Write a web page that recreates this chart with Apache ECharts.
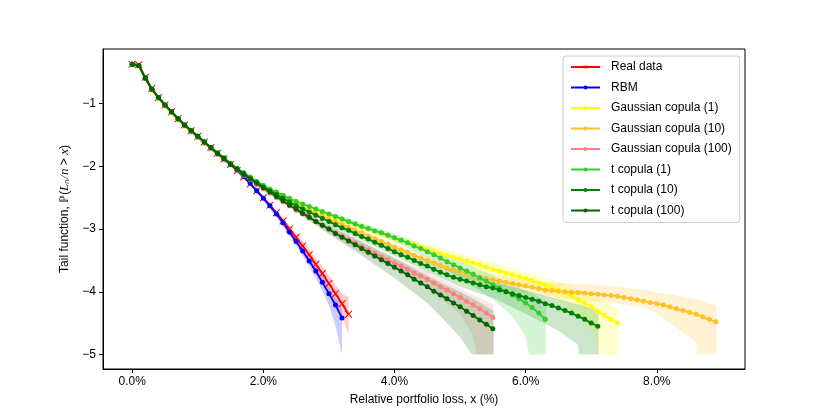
<!DOCTYPE html>
<html>
<head>
<meta charset="utf-8">
<script src="https://cdn.jsdelivr.net/npm/echarts@6/dist/echarts.min.js"></script>
<style>
html, body { margin: 0; padding: 0; background: #fff; }
#chart { width: 830px; height: 415px; }
</style>
</head>
<body>
<div id="chart"></div>
<script>
// relative loss grid, in percent
var lossPct = [0.0, 0.1, 0.2, 0.3, 0.4, 0.5, 0.6, 0.7, 0.8, 0.9,
    1.0, 1.1, 1.2, 1.3, 1.4, 1.5, 1.6, 1.7, 1.8, 1.9,
    2.0, 2.1, 2.2, 2.3, 2.4, 2.5, 2.6, 2.7, 2.8, 2.9,
    3.0, 3.1, 3.2, 3.3, 3.4, 3.5, 3.6, 3.7, 3.8, 3.9,
    4.0, 4.1, 4.2, 4.3, 4.4, 4.5, 4.6, 4.7, 4.8, 4.9,
    5.0, 5.1, 5.2, 5.3, 5.4, 5.5, 5.6, 5.7, 5.8, 5.9,
    6.0, 6.1, 6.2, 6.3, 6.4, 6.5, 6.6, 6.7, 6.8, 6.9,
    7.0, 7.1, 7.2, 7.3, 7.4, 7.5, 7.6, 7.7, 7.8, 7.9,
    8.0, 8.1, 8.2, 8.3, 8.4, 8.5, 8.6, 8.7, 8.8, 8.9];

// log10 tail probabilities, one value per grid step
var realData = [-0.37, -0.38, -0.58, -0.76, -0.90, -1.02, -1.13, -1.24, -1.34, -1.43,
    -1.52, -1.61, -1.70, -1.79, -1.88, -1.97, -2.07, -2.17, -2.28, -2.39,
    -2.50, -2.62, -2.74, -2.87, -3.00, -3.13, -3.27, -3.41, -3.56, -3.71,
    -3.87, -4.03, -4.19, -4.36];
var rbm = [-0.37, -0.39, -0.59, -0.77, -0.91, -1.03, -1.14, -1.25, -1.35, -1.44,
    -1.53, -1.62, -1.71, -1.80, -1.88, -1.97, -2.06, -2.16, -2.27, -2.39,
    -2.51, -2.63, -2.76, -2.90, -3.05, -3.20, -3.35, -3.51, -3.67, -3.85,
    -4.03, -4.21, -4.42];
var gauss1 = [-0.37, -0.39, -0.60, -0.78, -0.92, -1.04, -1.15, -1.26, -1.36, -1.45,
    -1.54, -1.63, -1.72, -1.80, -1.88, -1.96, -2.04, -2.11, -2.18, -2.25,
    -2.31, -2.37, -2.42, -2.47, -2.52, -2.57, -2.61, -2.66, -2.70, -2.74,
    -2.78, -2.82, -2.86, -2.89, -2.93, -2.97, -3.00, -3.04, -3.08, -3.11,
    -3.15, -3.18, -3.22, -3.25, -3.29, -3.32, -3.35, -3.39, -3.42, -3.45,
    -3.48, -3.51, -3.54, -3.57, -3.61, -3.64, -3.67, -3.70, -3.73, -3.76,
    -3.79, -3.82, -3.86, -3.89, -3.93, -3.97, -4.02, -4.07, -4.13, -4.18,
    -4.24, -4.31, -4.38, -4.44, -4.50];
var gauss10 = [-0.37, -0.39, -0.59, -0.77, -0.91, -1.03, -1.14, -1.25, -1.35, -1.44,
    -1.53, -1.62, -1.71, -1.79, -1.87, -1.96, -2.04, -2.11, -2.18, -2.25,
    -2.32, -2.38, -2.44, -2.49, -2.55, -2.60, -2.65, -2.70, -2.75, -2.79,
    -2.84, -2.88, -2.93, -2.97, -3.02, -3.06, -3.11, -3.15, -3.20, -3.24,
    -3.29, -3.33, -3.37, -3.42, -3.46, -3.50, -3.54, -3.58, -3.62, -3.65,
    -3.68, -3.71, -3.74, -3.77, -3.79, -3.81, -3.83, -3.85, -3.87, -3.89,
    -3.91, -3.93, -3.95, -3.97, -3.98, -3.99, -4.00, -4.01, -4.01, -4.02,
    -4.03, -4.04, -4.05, -4.06, -4.07, -4.09, -4.11, -4.13, -4.15, -4.17,
    -4.19, -4.21, -4.24, -4.27, -4.30, -4.33, -4.36, -4.40, -4.44, -4.48];
var gauss100 = [-0.37, -0.39, -0.59, -0.77, -0.91, -1.03, -1.14, -1.25, -1.35, -1.45,
    -1.54, -1.63, -1.72, -1.81, -1.90, -1.98, -2.06, -2.14, -2.21, -2.29,
    -2.36, -2.43, -2.50, -2.57, -2.63, -2.70, -2.76, -2.82, -2.88, -2.94,
    -3.00, -3.06, -3.11, -3.17, -3.22, -3.28, -3.33, -3.38, -3.44, -3.49,
    -3.54, -3.59, -3.64, -3.70, -3.75, -3.80, -3.86, -3.92, -3.97, -4.03,
    -4.09, -4.15, -4.21, -4.27, -4.34, -4.41];
var tCop1 = [-0.37, -0.39, -0.59, -0.77, -0.90, -1.02, -1.13, -1.24, -1.34, -1.43,
    -1.52, -1.61, -1.70, -1.78, -1.86, -1.95, -2.03, -2.10, -2.17, -2.24,
    -2.30, -2.36, -2.41, -2.46, -2.51, -2.56, -2.60, -2.64, -2.68, -2.72,
    -2.76, -2.80, -2.84, -2.88, -2.92, -2.96, -2.99, -3.03, -3.06, -3.10,
    -3.14, -3.18, -3.22, -3.27, -3.31, -3.36, -3.41, -3.46, -3.52, -3.57,
    -3.62, -3.67, -3.72, -3.78, -3.83, -3.89, -3.94, -3.99, -4.05, -4.11,
    -4.18, -4.25, -4.34, -4.44];
var tCop10 = [-0.37, -0.39, -0.59, -0.77, -0.90, -1.02, -1.13, -1.24, -1.34, -1.43,
    -1.52, -1.61, -1.70, -1.79, -1.87, -1.96, -2.04, -2.11, -2.19, -2.26,
    -2.33, -2.39, -2.45, -2.51, -2.57, -2.63, -2.68, -2.73, -2.78, -2.83,
    -2.88, -2.93, -2.98, -3.02, -3.07, -3.12, -3.16, -3.21, -3.26, -3.31,
    -3.36, -3.41, -3.45, -3.50, -3.55, -3.59, -3.64, -3.69, -3.73, -3.77,
    -3.80, -3.83, -3.86, -3.89, -3.92, -3.94, -3.97, -4.00, -4.03, -4.06,
    -4.09, -4.12, -4.15, -4.19, -4.22, -4.26, -4.30, -4.34, -4.39, -4.44,
    -4.50, -4.55];
var tCop100 = [-0.37, -0.39, -0.59, -0.77, -0.90, -1.02, -1.13, -1.24, -1.34, -1.43,
    -1.52, -1.61, -1.70, -1.79, -1.88, -1.97, -2.05, -2.13, -2.20, -2.27,
    -2.34, -2.41, -2.48, -2.55, -2.62, -2.68, -2.75, -2.81, -2.88, -2.94,
    -3.00, -3.07, -3.13, -3.19, -3.25, -3.31, -3.37, -3.43, -3.49, -3.55,
    -3.61, -3.67, -3.73, -3.80, -3.86, -3.92, -3.99, -4.05, -4.11, -4.18,
    -4.24, -4.31, -4.38, -4.45, -4.52, -4.59];

// confidence bands: [loss %, lower, upper]
var realBand = [[1.8, -2.30, -2.26], [2.0, -2.53, -2.47], [2.2, -2.78, -2.70], [2.4, -3.06, -2.94],
    [2.6, -3.35, -3.19], [2.8, -3.66, -3.46], [3.0, -4.00, -3.74], [3.1, -4.18, -3.89],
    [3.2, -4.40, -4.03], [3.3, -4.68, -4.09]];
var rbmBand = [[2.0, -2.54, -2.48], [2.4, -3.10, -3.00], [2.6, -3.42, -3.29], [2.8, -3.78, -3.58],
    [2.9, -3.98, -3.75], [3.0, -4.22, -3.93], [3.1, -4.55, -4.10], [3.2, -5.00, -4.28]];
var gauss1Band = [[2.0, -2.33, -2.29], [3.0, -2.82, -2.73], [4.0, -3.20, -3.08], [5.0, -3.56, -3.39],
    [5.5, -3.74, -3.53], [6.0, -3.92, -3.68], [6.5, -4.15, -3.84], [6.8, -4.38, -3.96],
    [7.0, -4.62, -4.05], [7.1, -4.80, -4.12], [7.11, -5.00, -4.12], [7.41, -5.00, -4.28]];
var gauss10Band = [[3.0, -2.88, -2.80], [4.0, -3.34, -3.24], [5.0, -3.75, -3.61], [5.5, -3.90, -3.72],
    [6.0, -4.02, -3.81], [6.5, -4.10, -3.86], [7.0, -4.15, -3.88], [7.5, -4.20, -3.93],
    [7.8, -4.25, -3.97], [8.0, -4.35, -4.01], [8.2, -4.50, -4.04], [8.4, -4.65, -4.08],
    [8.6, -4.80, -4.12], [8.61, -5.00, -4.12], [8.91, -5.00, -4.22]];
var gauss100Band = [[2.0, -2.39, -2.33], [3.0, -3.07, -2.94], [3.5, -3.38, -3.21], [4.0, -3.64, -3.46],
    [4.5, -3.95, -3.68], [5.0, -4.35, -3.95], [5.2, -4.70, -4.05], [5.25, -5.00, -4.08],
    [5.51, -5.00, -4.20]];
var tCop1Band = [[3.0, -2.80, -2.72], [4.0, -3.20, -3.08], [4.5, -3.46, -3.28], [5.0, -3.78, -3.50],
    [5.5, -4.12, -3.74], [5.8, -4.40, -3.88], [6.0, -4.70, -3.98], [6.05, -5.00, -4.00],
    [6.31, -5.00, -4.15]];
var tCop10Band = [[3.0, -2.93, -2.84], [4.0, -3.43, -3.30], [4.5, -3.68, -3.50], [5.0, -3.92, -3.70],
    [5.5, -4.10, -3.84], [6.0, -4.35, -3.98], [6.5, -4.62, -4.12], [6.8, -4.85, -4.20],
    [6.81, -5.00, -4.20], [7.11, -5.00, -4.30]];
var tCop100Band = [[2.5, -2.72, -2.64], [3.0, -3.08, -2.93], [3.5, -3.42, -3.20], [4.0, -3.78, -3.46],
    [4.5, -4.18, -3.74], [4.8, -4.50, -3.90], [5.0, -4.72, -4.00], [5.18, -5.00, -4.10],
    [5.51, -5.00, -4.30]];

var xTicks = [0, 2, 4, 6, 8];
var yTicks = [-5, -4, -3, -2, -1];

var FONT = 'Liberation Sans';
var CROSS = 'path://M0,1L1,0L5,4L9,0L10,1L6,5L10,9L9,10L5,6L1,10L0,9L4,5Z';

function curve(name, color, ys, symbol, size, z) {
    return {
        name: name,
        type: 'line',
        z: z,
        data: ys.map(function (y, i) { return [lossPct[i], y]; }),
        symbol: symbol,
        symbolSize: size,
        showAllSymbol: true,
        lineStyle: { color: color, width: 1.8 },
        itemStyle: { color: color },
        emphasis: { disabled: true }
    };
}

function band(rows, color, z) {
    return {
        type: 'custom',
        z: z,
        silent: true,
        data: rows,
        encode: { x: 0, y: [1, 2] },
        renderItem: function (params, api) {
            if (params.dataIndex !== 0) return null;
            var upper = rows.map(function (r) { return api.coord([r[0], r[2]]); });
            var lower = rows.map(function (r) { return api.coord([r[0], r[1]]); }).reverse();
            return {
                type: 'polygon',
                shape: { points: upper.concat(lower) },
                style: { fill: color, opacity: 0.2 }
            };
        }
    };
}

var names = ['Real data', 'RBM', 'Gaussian copula (1)', 'Gaussian copula (10)',
    'Gaussian copula (100)', 't copula (1)', 't copula (10)', 't copula (100)'];

var chart = echarts.init(document.getElementById('chart'));
chart.setOption({
    animation: false,
    backgroundColor: '#fff',
    grid: {
        left: 103, top: 49, right: 85, bottom: 46,
        show: true, borderColor: '#000', borderWidth: 1,
        outerBoundsMode: 'none'
    },
    legend: {
        data: names,
        orient: 'vertical',
        left: 563, top: 56,
        itemWidth: 29, itemHeight: 5, itemGap: 6.5,
        padding: [4, 8, 5, 7],
        backgroundColor: 'rgba(255,255,255,0.8)',
        borderColor: '#cccccc', borderWidth: 1, borderRadius: 3,
        selectedMode: false,
        textStyle: { fontFamily: FONT, fontSize: 12, color: '#000', lineHeight: 14, padding: [0, 0, 0, 6] }
    },
    xAxis: {
        type: 'value',
        min: -0.445, max: 9.345,
        name: 'Relative portfolio loss, x (%)',
        nameLocation: 'middle', nameGap: 25,
        nameTextStyle: { fontFamily: FONT, fontSize: 12, color: '#000' },
        splitLine: { show: false },
        axisLine: { show: true, onZero: false, lineStyle: { color: '#000', width: 1 } },
        axisTick: { show: true, customValues: xTicks, length: 4, lineStyle: { color: '#000' } },
        axisLabel: {
            customValues: xTicks, margin: 7, fontFamily: FONT, fontSize: 12, color: '#000',
            formatter: function (v) { return v.toFixed(1) + '%'; }
        }
    },
    yAxis: {
        type: 'value',
        min: -5.232, max: -0.128,
        name: 'Tail function, \u2119({i|L}\u2099{i|/n} > {i|x})',
        nameLocation: 'middle', nameGap: 25,
        nameTextStyle: {
            fontFamily: FONT, fontSize: 12, color: '#000',
            rich: { i: { fontFamily: 'Liberation Serif', fontStyle: 'italic', fontSize: 13, color: '#000' } }
        },
        splitLine: { show: false },
        axisLine: { show: true, onZero: false, lineStyle: { color: '#000', width: 1 } },
        axisTick: { show: true, customValues: yTicks, length: 4, lineStyle: { color: '#000' } },
        axisLabel: {
            customValues: yTicks, margin: 7, fontFamily: FONT, fontSize: 12, color: '#000',
            formatter: function (v) { return '\u2212' + Math.abs(v); }
        }
    },
    series: [
        band(realBand, '#ff0000', 1),
        band(rbmBand, '#0000ff', 1),
        band(gauss1Band, '#ffff00', 1),
        band(gauss10Band, '#ffc125', 1),
        band(gauss100Band, '#ff8080', 1),
        band(tCop1Band, '#32cd32', 1),
        band(tCop10Band, '#008000', 1),
        band(tCop100Band, '#006400', 1),
        curve(names[0], '#ff0000', realData, CROSS, 7.5, 2),
        curve(names[1], '#0000ff', rbm, 'circle', 5, 3),
        curve(names[2], '#ffff00', gauss1, 'circle', 5, 4),
        curve(names[3], '#ffc125', gauss10, 'circle', 5, 5),
        curve(names[4], '#ff8080', gauss100, 'circle', 5, 6),
        curve(names[5], '#32cd32', tCop1, 'circle', 5, 7),
        curve(names[6], '#008000', tCop10, 'circle', 5, 8),
        curve(names[7], '#006400', tCop100, 'circle', 5, 9)
    ]
});
</script>
</body>
</html>
